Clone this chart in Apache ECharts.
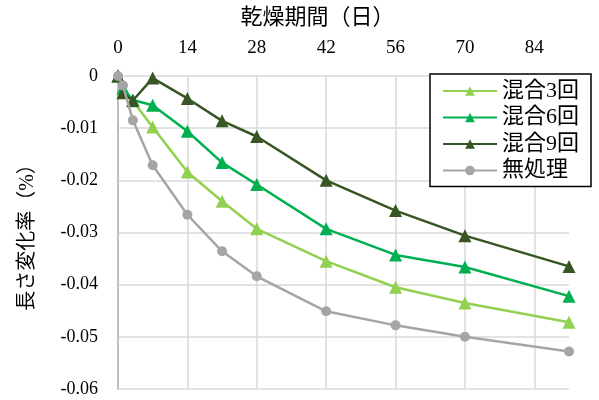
<!DOCTYPE html>
<html><head><meta charset="utf-8">
<script src="https://cdn.jsdelivr.net/npm/echarts@6/dist/echarts.min.js"></script>
<style>html,body{margin:0;padding:0;background:#fff}#c{width:599px;height:400px}</style>
</head><body><div id="c"></div>
<script>
var days = [0, 1, 3, 7, 14, 21, 28, 42, 56, 70, 91];
var mix3 = [0, -0.0025, -0.0048, -0.0098, -0.0184, -0.0240, -0.0293, -0.0355, -0.0405, -0.0435, -0.0472];
var mix6 = [0, -0.0023, -0.0046, -0.0056, -0.0106, -0.0166, -0.0208, -0.0293, -0.0343, -0.0366, -0.0422];
var mix9 = [0, -0.0032, -0.0047, -0.0004, -0.0043, -0.0086, -0.0116, -0.0200, -0.0258, -0.0306, -0.0365];
var none = [0, -0.0018, -0.0085, -0.0171, -0.0266, -0.0336, -0.0384, -0.0451, -0.0478, -0.0500, -0.0528];
var names = ['混合3回', '混合6回', '混合9回', '無処理'];
var colors = ['#92d050', '#00b050', '#375623', '#a5a5a5'];
var xTicks = [0, 14, 28, 42, 56, 70, 84];

var FONT = '"Liberation Serif", "Noto Sans CJK JP", serif';
function pairs(v){ return days.map(function(d,i){ return [d, v[i]]; }); }
var all = [mix3, mix6, mix9, none];
var series = all.map(function(v, i){
  var tri = i < 3;
  return {
    name: names[i], type: 'line', data: pairs(v),
    symbol: tri ? 'triangle' : 'circle',
    symbolSize: tri ? 13 : 10,
    lineStyle: { color: colors[i], width: 2.5 },
    itemStyle: { color: colors[i] },
    emphasis: { disabled: true },
    z: 2 + i
  };
});
var chart = echarts.init(document.getElementById('c'), null, {renderer: 'canvas'});
chart.setOption({
  animation: false,
  backgroundColor: '#fff',
  grid: { left: 118, right: 30, top: 76, bottom: 11 },
  xAxis: {
    type: 'value', position: 'top', min: 0, max: 91, interval: 14,
    name: '乾燥期間（日）', nameLocation: 'middle', nameGap: 47,
    nameTextStyle: { fontFamily: FONT, fontSize: 22, color: '#000', padding: [0, 52, 0, 0] },
    axisLine: { show: false }, axisTick: { show: false },
    axisLabel: { fontFamily: FONT, fontSize: 19, color: '#000', margin: 18, showMaxLabel: false,
      formatter: function(v){ return xTicks.indexOf(v) >= 0 ? String(v) : ''; } },
    splitLine: { show: true, showMaxLine: false, lineStyle: { color: '#d9d9d9', width: 1.5 } }
  },
  yAxis: {
    type: 'value', min: -0.06, max: 0, interval: 0.01,
    name: '長さ変化率（%）', nameLocation: 'middle', nameGap: 80, nameRotate: 90,
    nameTextStyle: { fontFamily: FONT, fontSize: 20, color: '#000' },
    axisLine: { show: true, onZero: false, lineStyle: { color: '#bfbfbf', width: 2 } },
    axisTick: { show: false },
    axisLabel: { fontFamily: FONT, fontSize: 18, color: '#000', margin: 20,
      formatter: function(v){ return v === 0 ? '0' : String(Math.round(v*100)/100); } },
    splitLine: { show: true, lineStyle: { color: '#d9d9d9', width: 1.5 } }
  },
  legend: {
    data: names, orient: 'vertical', left: 430, top: 74,
    backgroundColor: '#fff', borderColor: '#000', borderWidth: 1.5,
    padding: [6, 12, 5, 12], itemWidth: 54, itemHeight: 12, itemGap: 4.5,
    textStyle: { fontFamily: FONT, fontSize: 22, color: '#000', padding: [0,0,0,0] }
  },
  series: series
});
</script></body></html>
